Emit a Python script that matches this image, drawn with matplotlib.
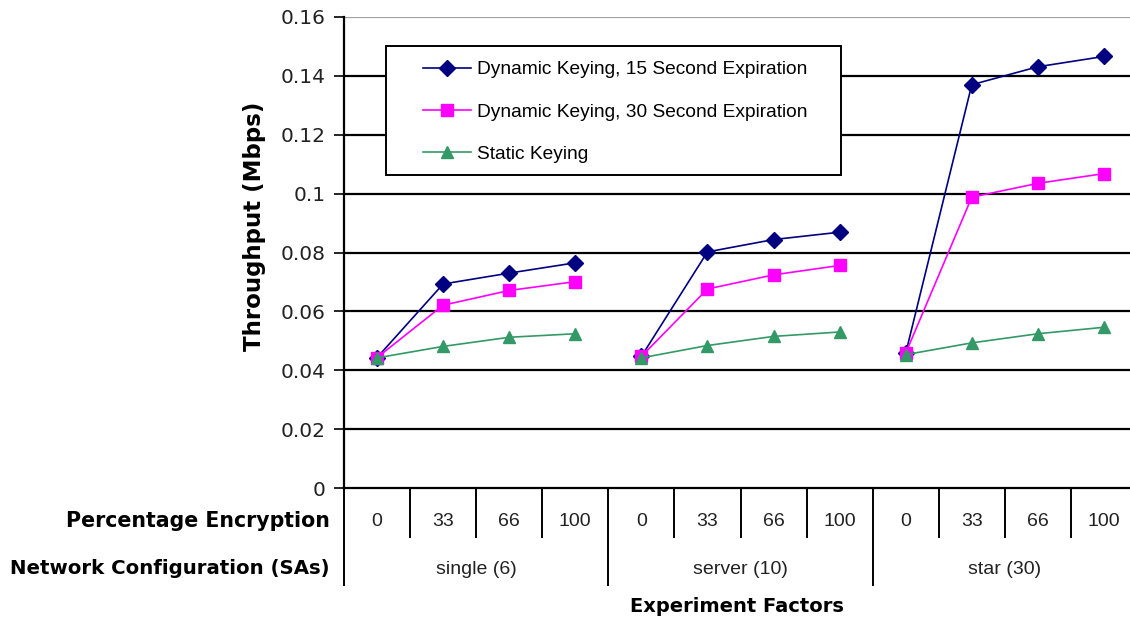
"""
Throughput vs. experiment factors for dynamic and static keying.

Saves out.png
"""

import matplotlib.pyplot as plt
from matplotlib.lines import Line2D
from matplotlib.patches import Rectangle

ARIAL = ["Liberation Sans", "DejaVu Sans"]
WIDE = ["DejaVu Sans"]

# Experiment factors (two-level category axis)
pct_encryption = ["0", "33", "66", "100"]
net_configs = ["single (6)", "server (10)", "star (30)"]

# Throughput (Mbps), one value per (config, pct) pair
dyn_15s = [0.0443, 0.0693, 0.0730, 0.0765,
           0.0447, 0.0802, 0.0844, 0.0869,
           0.0458, 0.1370, 0.1431, 0.1466]
dyn_30s = [0.0443, 0.0621, 0.0671, 0.0701,
           0.0447, 0.0676, 0.0724, 0.0756,
           0.0458, 0.0988, 0.1035, 0.1068]
static = [0.0442, 0.0481, 0.0512, 0.0524,
          0.0442, 0.0484, 0.0515, 0.0530,
          0.0453, 0.0493, 0.0524, 0.0546]

series = [
    ("Dynamic Keying, 15 Second Expiration", dyn_15s, "#000080", "D", 8),
    ("Dynamic Keying, 30 Second Expiration", dyn_30s, "#ff00ff", "s", 8),
    ("Static Keying", static, "#339966", "^", 9),
]

W, H = 1130, 621
fig = plt.figure(figsize=(W / 100, H / 100), dpi=100)
fig.patch.set_facecolor("white")


def fx(px):
    return px / W


def fy(py):
    return 1 - py / H


# plot area in pixels (left, top, right, bottom); right edge runs past the figure
left, top, right, bottom = 344, 17, 1137, 488
ax = fig.add_axes([fx(left), fy(bottom), (right - left) / W, (bottom - top) / H])

n_pct = len(pct_encryption)
n = n_pct * len(net_configs)

# each network configuration is drawn as its own short line
for label, values, color, marker, ms in series:
    for g in range(len(net_configs)):
        xs = list(range(g * n_pct, (g + 1) * n_pct))
        ax.plot(xs, values[g * n_pct:(g + 1) * n_pct], color=color, lw=1.2,
                marker=marker, markersize=ms, markeredgecolor=color,
                markerfacecolor=color, zorder=3)

ax.set_xlim(-0.5, n - 0.5)
ax.set_ylim(0, 0.16)
ax.set_yticks([i * 0.02 for i in range(9)])
ax.set_yticklabels(["0", "0.02", "0.04", "0.06", "0.08", "0.1", "0.12", "0.14", "0.16"],
                   family=WIDE, fontsize=14.5, color="#222222")
ax.tick_params(axis="y", direction="out", length=7, width=1.2, pad=6)
ax.set_xticks([])

# horizontal gridlines: black, top one grey
for i in range(1, 8):
    ax.axhline(i * 0.02, color="black", lw=1.6, zorder=1)
ax.axhline(0.16, color="#a0a0a0", lw=1.6, zorder=1)

for side in ["top", "right"]:
    ax.spines[side].set_visible(False)
ax.spines["left"].set_linewidth(1.6)
ax.spines["bottom"].set_linewidth(1.6)

fig.text(fx(254), fy(226), "Throughput (Mbps)", rotation=90, ha="center",
         va="center", family=WIDE, fontsize=16.5, fontweight="bold")

# category axis: separators and labels below the plot
ph = bottom - top
trans = ax.get_xaxis_transform()
row1_depth = 49 / ph
row2_depth = 97 / ph
for b in range(n + 1):
    depth = row2_depth if b % n_pct == 0 else row1_depth
    ax.plot([b - 0.5, b - 0.5], [0, -depth], transform=trans, color="black",
            lw=1.4, clip_on=False)

for i in range(n):
    ax.text(i, -34 / ph, pct_encryption[i % n_pct], transform=trans, ha="center",
            va="center", family=ARIAL, fontsize=14, color="#222222")
for g, name in enumerate(net_configs):
    ax.text(g * n_pct + (n_pct - 1) / 2, -81 / ph, name, transform=trans,
            ha="center", va="center", family=ARIAL, fontsize=14, color="#222222")

fig.text(fx(330), fy(521), "Percentage Encryption", ha="right", va="center",
         family=WIDE, fontsize=14.8, fontweight="bold")
fig.text(fx(330), fy(568), "Network Configuration (SAs)", ha="right",
         va="center", family=WIDE, fontsize=14.2, fontweight="bold")
fig.text(fx(737), fy(606), "Experiment Factors", ha="center", va="center",
         family=WIDE, fontsize=14, fontweight="bold")

# legend box with white fill over the gridlines
box = Rectangle((fx(386), fy(175)), (841 - 386) / W, (175 - 46) / H,
                transform=fig.transFigure, facecolor="white", edgecolor="black",
                lw=1.4, zorder=4)
fig.patches.append(box)

handles = [Line2D([], [], color=c, lw=1.2, marker=m, markersize=ms,
                  markerfacecolor=c, markeredgecolor=c)
           for _, _, c, m, ms in series]
leg = fig.legend(handles, [s[0] for s in series], loc="upper left",
                 bbox_to_anchor=(fx(423), fy(61)), borderaxespad=0, borderpad=0,
                 frameon=False, prop={"family": ARIAL, "size": 13.8},
                 labelspacing=1.3, handlelength=2.5, handletextpad=0.32)
leg.set_zorder(5)

fig.savefig("out.png", dpi=100, facecolor="white")
